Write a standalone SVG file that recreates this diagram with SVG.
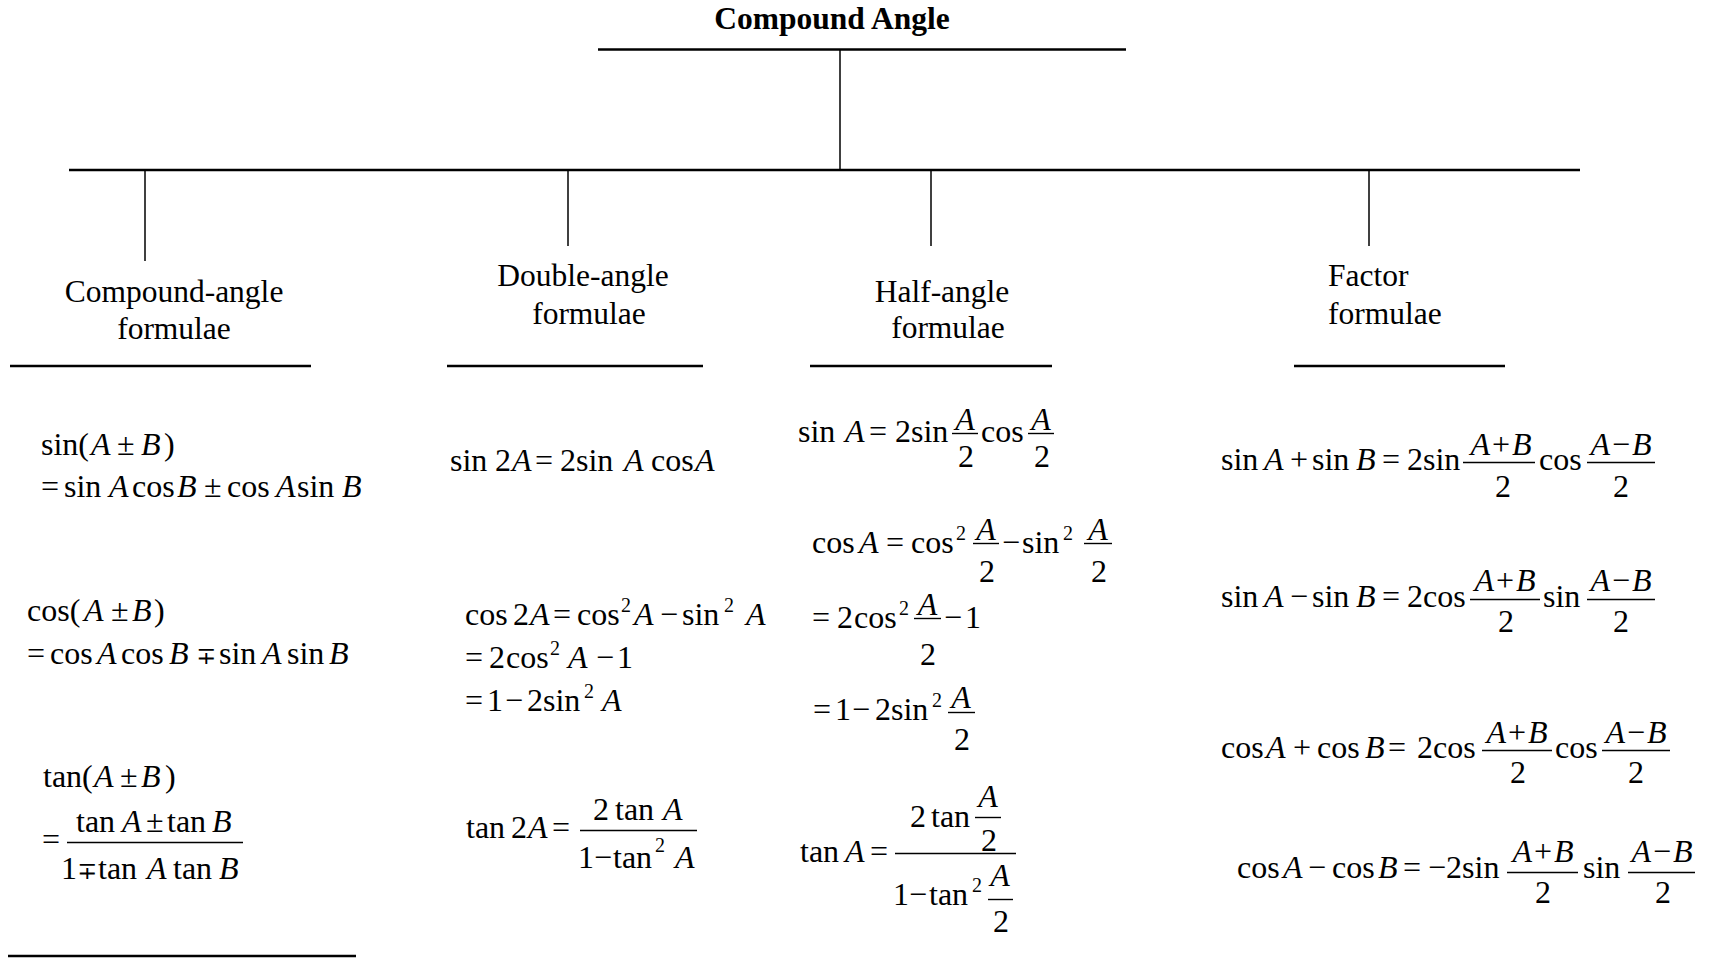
<svg xmlns="http://www.w3.org/2000/svg" width="1709" height="966" viewBox="0 0 1709 966">
<style>
.lbl{font-family:"Liberation Serif","Times New Roman",serif;font-size:31.5px;fill:#000}
.ttl{font-family:"Liberation Serif","Times New Roman",serif;font-size:31.5px;font-weight:bold;fill:#000}
.m{font-family:"Liberation Serif","Times New Roman","DejaVu Serif",serif;font-size:32px;fill:#000}
.c{text-anchor:middle}
.i{font-style:italic}
.s{font-size:20px}
.mp{font-size:24px}
.hl{stroke:#000;stroke-width:2.5;fill:none}
.vl{stroke:#000;stroke-width:1.5;fill:none}
.fb{stroke:#000;stroke-width:1.4;fill:none}
</style>
<rect width="1709" height="966" fill="#fff"/>

<g id="connectors">
  <line class="vl" x1="840" y1="50" x2="840" y2="170"/>
  <line class="hl" x1="69" y1="170" x2="1580" y2="170"/>
  <line class="vl" x1="145" y1="170" x2="145" y2="261"/>
  <line class="vl" x1="568" y1="170" x2="568" y2="246"/>
  <line class="vl" x1="931" y1="170" x2="931" y2="246"/>
  <line class="vl" x1="1369" y1="170" x2="1369" y2="246"/>
</g>

<g id="root">
  <text class="ttl c" x="832" y="29">Compound Angle</text>
  <line class="hl" x1="598" y1="49.5" x2="1126" y2="49.5"/>
</g>

<g id="compound-angle">
  <text class="lbl c" x="174" y="302">Compound-angle</text>
  <text class="lbl c" x="174" y="339">formulae</text>
  <line class="hl" x1="10" y1="366" x2="311" y2="366"/>
  <text class="m" y="455"><tspan x="41">sin(</tspan><tspan x="91" class="i">A</tspan><tspan x="117">±</tspan><tspan x="141" class="i">B</tspan><tspan x="164">)</tspan></text>
  <text class="m" y="497"><tspan x="41">=</tspan><tspan x="64">sin</tspan><tspan x="109" class="i">A</tspan><tspan x="132">cos</tspan><tspan x="177" class="i">B</tspan><tspan x="204">±</tspan><tspan x="227">cos</tspan><tspan x="276" class="i">A</tspan><tspan x="297">sin</tspan><tspan x="342" class="i">B</tspan></text>
  <text class="m" y="621"><tspan x="27">cos(</tspan><tspan x="84" class="i">A</tspan><tspan x="111">±</tspan><tspan x="132" class="i">B</tspan><tspan x="154">)</tspan></text>
  <text class="m" y="664"><tspan x="27">=</tspan><tspan x="50">cos</tspan><tspan x="97" class="i">A</tspan><tspan x="121">cos</tspan><tspan x="169" class="i">B</tspan><tspan x="196" class="mp">∓</tspan><tspan x="219">sin</tspan><tspan x="262" class="i">A</tspan><tspan x="287">sin</tspan><tspan x="329" class="i">B</tspan></text>
  <text class="m" y="787"><tspan x="43">tan(</tspan><tspan x="94" class="i">A</tspan><tspan x="120">±</tspan><tspan x="141" class="i">B</tspan><tspan x="165">)</tspan></text>
  <text class="m" x="42" y="850">=</text>
  <line class="fb" x1="67" y1="842.5" x2="243" y2="842.5"/>
  <text class="m" y="832"><tspan x="76">tan</tspan><tspan x="122" class="i">A</tspan><tspan x="146">±</tspan><tspan x="167">tan</tspan><tspan x="212" class="i">B</tspan></text>
  <text class="m" y="879"><tspan x="61">1</tspan><tspan x="77" class="mp">∓</tspan><tspan x="98">tan</tspan><tspan x="147" class="i">A</tspan><tspan x="173">tan</tspan><tspan x="219" class="i">B</tspan></text>
  <line class="hl" x1="8" y1="956" x2="356" y2="956"/>
</g>

<g id="double-angle">
  <text class="lbl c" x="583" y="286">Double-angle</text>
  <text class="lbl c" x="589" y="324">formulae</text>
  <line class="hl" x1="447" y1="366" x2="703" y2="366"/>
  <text class="m" y="471"><tspan x="450">sin</tspan><tspan x="495">2</tspan><tspan x="512" class="i">A</tspan><tspan x="535">=</tspan><tspan x="560">2sin</tspan><tspan x="624" class="i">A</tspan><tspan x="651">cos</tspan><tspan x="695" class="i">A</tspan></text>
  <text class="m" y="625"><tspan x="465">cos</tspan><tspan x="513">2</tspan><tspan x="530" class="i">A</tspan><tspan x="553">=</tspan><tspan x="577">cos</tspan><tspan x="621" y="612" class="s">2</tspan><tspan x="634" y="625" class="i">A</tspan><tspan x="660">−</tspan><tspan x="682">sin</tspan><tspan x="724" y="612" class="s">2</tspan><tspan x="746" y="625" class="i">A</tspan></text>
  <text class="m" y="668"><tspan x="465">=</tspan><tspan x="489">2</tspan><tspan x="506">cos</tspan><tspan x="550" y="655" class="s">2</tspan><tspan x="568" y="668" class="i">A</tspan><tspan x="596">−</tspan><tspan x="617">1</tspan></text>
  <text class="m" y="711"><tspan x="465">=</tspan><tspan x="487">1</tspan><tspan x="505">−</tspan><tspan x="527">2sin</tspan><tspan x="584" y="698" class="s">2</tspan><tspan x="602" y="711" class="i">A</tspan></text>
  <text class="m" y="838"><tspan x="466">tan</tspan><tspan x="511">2</tspan><tspan x="528" class="i">A</tspan><tspan x="552">=</tspan></text>
  <line class="fb" x1="580" y1="830.5" x2="697" y2="830.5"/>
  <text class="m" y="820"><tspan x="593">2</tspan><tspan x="615">tan</tspan><tspan x="663" class="i">A</tspan></text>
  <text class="m" y="868"><tspan x="578">1</tspan><tspan x="594">−</tspan><tspan x="613">tan</tspan><tspan x="655" y="852" class="s">2</tspan><tspan x="675" y="868" class="i">A</tspan></text>
</g>

<g id="half-angle">
  <text class="lbl c" x="942" y="302">Half-angle</text>
  <text class="lbl c" x="948" y="338">formulae</text>
  <line class="hl" x1="810" y1="366" x2="1052" y2="366"/>
  <text class="m" y="442"><tspan x="798">sin</tspan><tspan x="845" class="i">A</tspan><tspan x="869">=</tspan><tspan x="895">2sin</tspan><tspan x="981">cos</tspan></text>
  <line class="fb" x1="952" y1="433.5" x2="978" y2="433.5"/>
  <text class="m c i" x="965" y="430">A</text>
  <text class="m c" x="966" y="467">2</text>
  <line class="fb" x1="1028" y1="433.5" x2="1054" y2="433.5"/>
  <text class="m c i" x="1041" y="430">A</text>
  <text class="m c" x="1042" y="467">2</text>

  <text class="m" y="553"><tspan x="812">cos</tspan><tspan x="859" class="i">A</tspan><tspan x="886">=</tspan><tspan x="911">cos</tspan><tspan x="956" y="540" class="s">2</tspan><tspan x="1002" y="553">−</tspan><tspan x="1022">sin</tspan><tspan x="1063" y="540" class="s">2</tspan></text>
  <line class="fb" x1="973" y1="543.5" x2="999" y2="543.5"/>
  <text class="m c i" x="986" y="540">A</text>
  <text class="m c" x="987" y="582">2</text>
  <line class="fb" x1="1084" y1="543.5" x2="1112" y2="543.5"/>
  <text class="m c i" x="1098" y="540">A</text>
  <text class="m c" x="1099" y="582">2</text>

  <text class="m" y="628"><tspan x="812">=</tspan><tspan x="837">2</tspan><tspan x="854">cos</tspan><tspan x="899" y="615" class="s">2</tspan><tspan x="944" y="628">−</tspan><tspan x="965">1</tspan></text>
  <line class="fb" x1="914" y1="618.5" x2="941" y2="618.5"/>
  <text class="m c i" x="927.5" y="615">A</text>
  <text class="m c" x="928" y="665">2</text>

  <text class="m" y="720"><tspan x="813">=</tspan><tspan x="835">1</tspan><tspan x="852">−</tspan><tspan x="875">2sin</tspan><tspan x="932" y="707" class="s">2</tspan></text>
  <line class="fb" x1="948" y1="712.5" x2="975" y2="712.5"/>
  <text class="m c i" x="961" y="708">A</text>
  <text class="m c" x="962" y="750">2</text>

  <text class="m" y="862"><tspan x="800">tan</tspan><tspan x="845" class="i">A</tspan><tspan x="870">=</tspan></text>
  <line class="fb" x1="895" y1="853.5" x2="1016" y2="853.5"/>
  <text class="m" y="827"><tspan x="910">2</tspan><tspan x="931">tan</tspan></text>
  <line class="fb" x1="975" y1="817.5" x2="1001" y2="817.5"/>
  <text class="m c i" x="988" y="807">A</text>
  <text class="m c" x="989" y="851">2</text>
  <text class="m" y="905"><tspan x="893">1</tspan><tspan x="909">−</tspan><tspan x="929">tan</tspan><tspan x="972" y="892" class="s">2</tspan></text>
  <line class="fb" x1="988" y1="899.5" x2="1013" y2="899.5"/>
  <text class="m c i" x="1000" y="886">A</text>
  <text class="m c" x="1001" y="932">2</text>
</g>

<g id="factor">
  <text class="lbl" x="1328" y="286">Factor</text>
  <text class="lbl" x="1328" y="324">formulae</text>
  <line class="hl" x1="1294" y1="366" x2="1505" y2="366"/>

  <text class="m" y="470"><tspan x="1221">sin</tspan><tspan x="1264" class="i">A</tspan><tspan x="1290">+</tspan><tspan x="1312">sin</tspan><tspan x="1356" class="i">B</tspan><tspan x="1382">=</tspan><tspan x="1407">2sin</tspan><tspan x="1539">cos</tspan></text>
  <line class="fb" x1="1463" y1="462.5" x2="1535" y2="462.5"/>
  <text class="m c" x="1501" y="455"><tspan class="i">A</tspan><tspan dx="2">+</tspan><tspan class="i" dx="2">B</tspan></text>
  <text class="m c" x="1503" y="497">2</text>
  <line class="fb" x1="1587" y1="462.5" x2="1655" y2="462.5"/>
  <text class="m c" x="1621" y="455"><tspan class="i">A</tspan><tspan dx="2">−</tspan><tspan class="i" dx="2">B</tspan></text>
  <text class="m c" x="1621" y="497">2</text>

  <text class="m" y="607"><tspan x="1221">sin</tspan><tspan x="1264" class="i">A</tspan><tspan x="1290">−</tspan><tspan x="1312">sin</tspan><tspan x="1356" class="i">B</tspan><tspan x="1382">=</tspan><tspan x="1407">2cos</tspan><tspan x="1543">sin</tspan></text>
  <line class="fb" x1="1470" y1="599.5" x2="1540" y2="599.5"/>
  <text class="m c" x="1505" y="591"><tspan class="i">A</tspan><tspan dx="2">+</tspan><tspan class="i" dx="2">B</tspan></text>
  <text class="m c" x="1506" y="632">2</text>
  <line class="fb" x1="1587" y1="599.5" x2="1655" y2="599.5"/>
  <text class="m c" x="1621" y="591"><tspan class="i">A</tspan><tspan dx="2">−</tspan><tspan class="i" dx="2">B</tspan></text>
  <text class="m c" x="1621" y="632">2</text>

  <text class="m" y="758"><tspan x="1221">cos</tspan><tspan x="1266" class="i">A</tspan><tspan x="1293">+</tspan><tspan x="1317">cos</tspan><tspan x="1365" class="i">B</tspan><tspan x="1388">=</tspan><tspan x="1417">2cos</tspan><tspan x="1555">cos</tspan></text>
  <line class="fb" x1="1482" y1="750.5" x2="1552" y2="750.5"/>
  <text class="m c" x="1517" y="743"><tspan class="i">A</tspan><tspan dx="2">+</tspan><tspan class="i" dx="2">B</tspan></text>
  <text class="m c" x="1518" y="783">2</text>
  <line class="fb" x1="1602" y1="750.5" x2="1670" y2="750.5"/>
  <text class="m c" x="1636" y="743"><tspan class="i">A</tspan><tspan dx="2">−</tspan><tspan class="i" dx="2">B</tspan></text>
  <text class="m c" x="1636" y="783">2</text>

  <text class="m" y="878"><tspan x="1237">cos</tspan><tspan x="1283" class="i">A</tspan><tspan x="1308">−</tspan><tspan x="1332">cos</tspan><tspan x="1378" class="i">B</tspan><tspan x="1403">=</tspan><tspan x="1428">−2sin</tspan><tspan x="1583">sin</tspan></text>
  <line class="fb" x1="1507" y1="872.5" x2="1578" y2="872.5"/>
  <text class="m c" x="1543" y="862"><tspan class="i">A</tspan><tspan dx="2">+</tspan><tspan class="i" dx="2">B</tspan></text>
  <text class="m c" x="1543" y="903">2</text>
  <line class="fb" x1="1628" y1="872.5" x2="1695" y2="872.5"/>
  <text class="m c" x="1662" y="862"><tspan class="i">A</tspan><tspan dx="2">−</tspan><tspan class="i" dx="2">B</tspan></text>
  <text class="m c" x="1663" y="903">2</text>
</g>
</svg>
